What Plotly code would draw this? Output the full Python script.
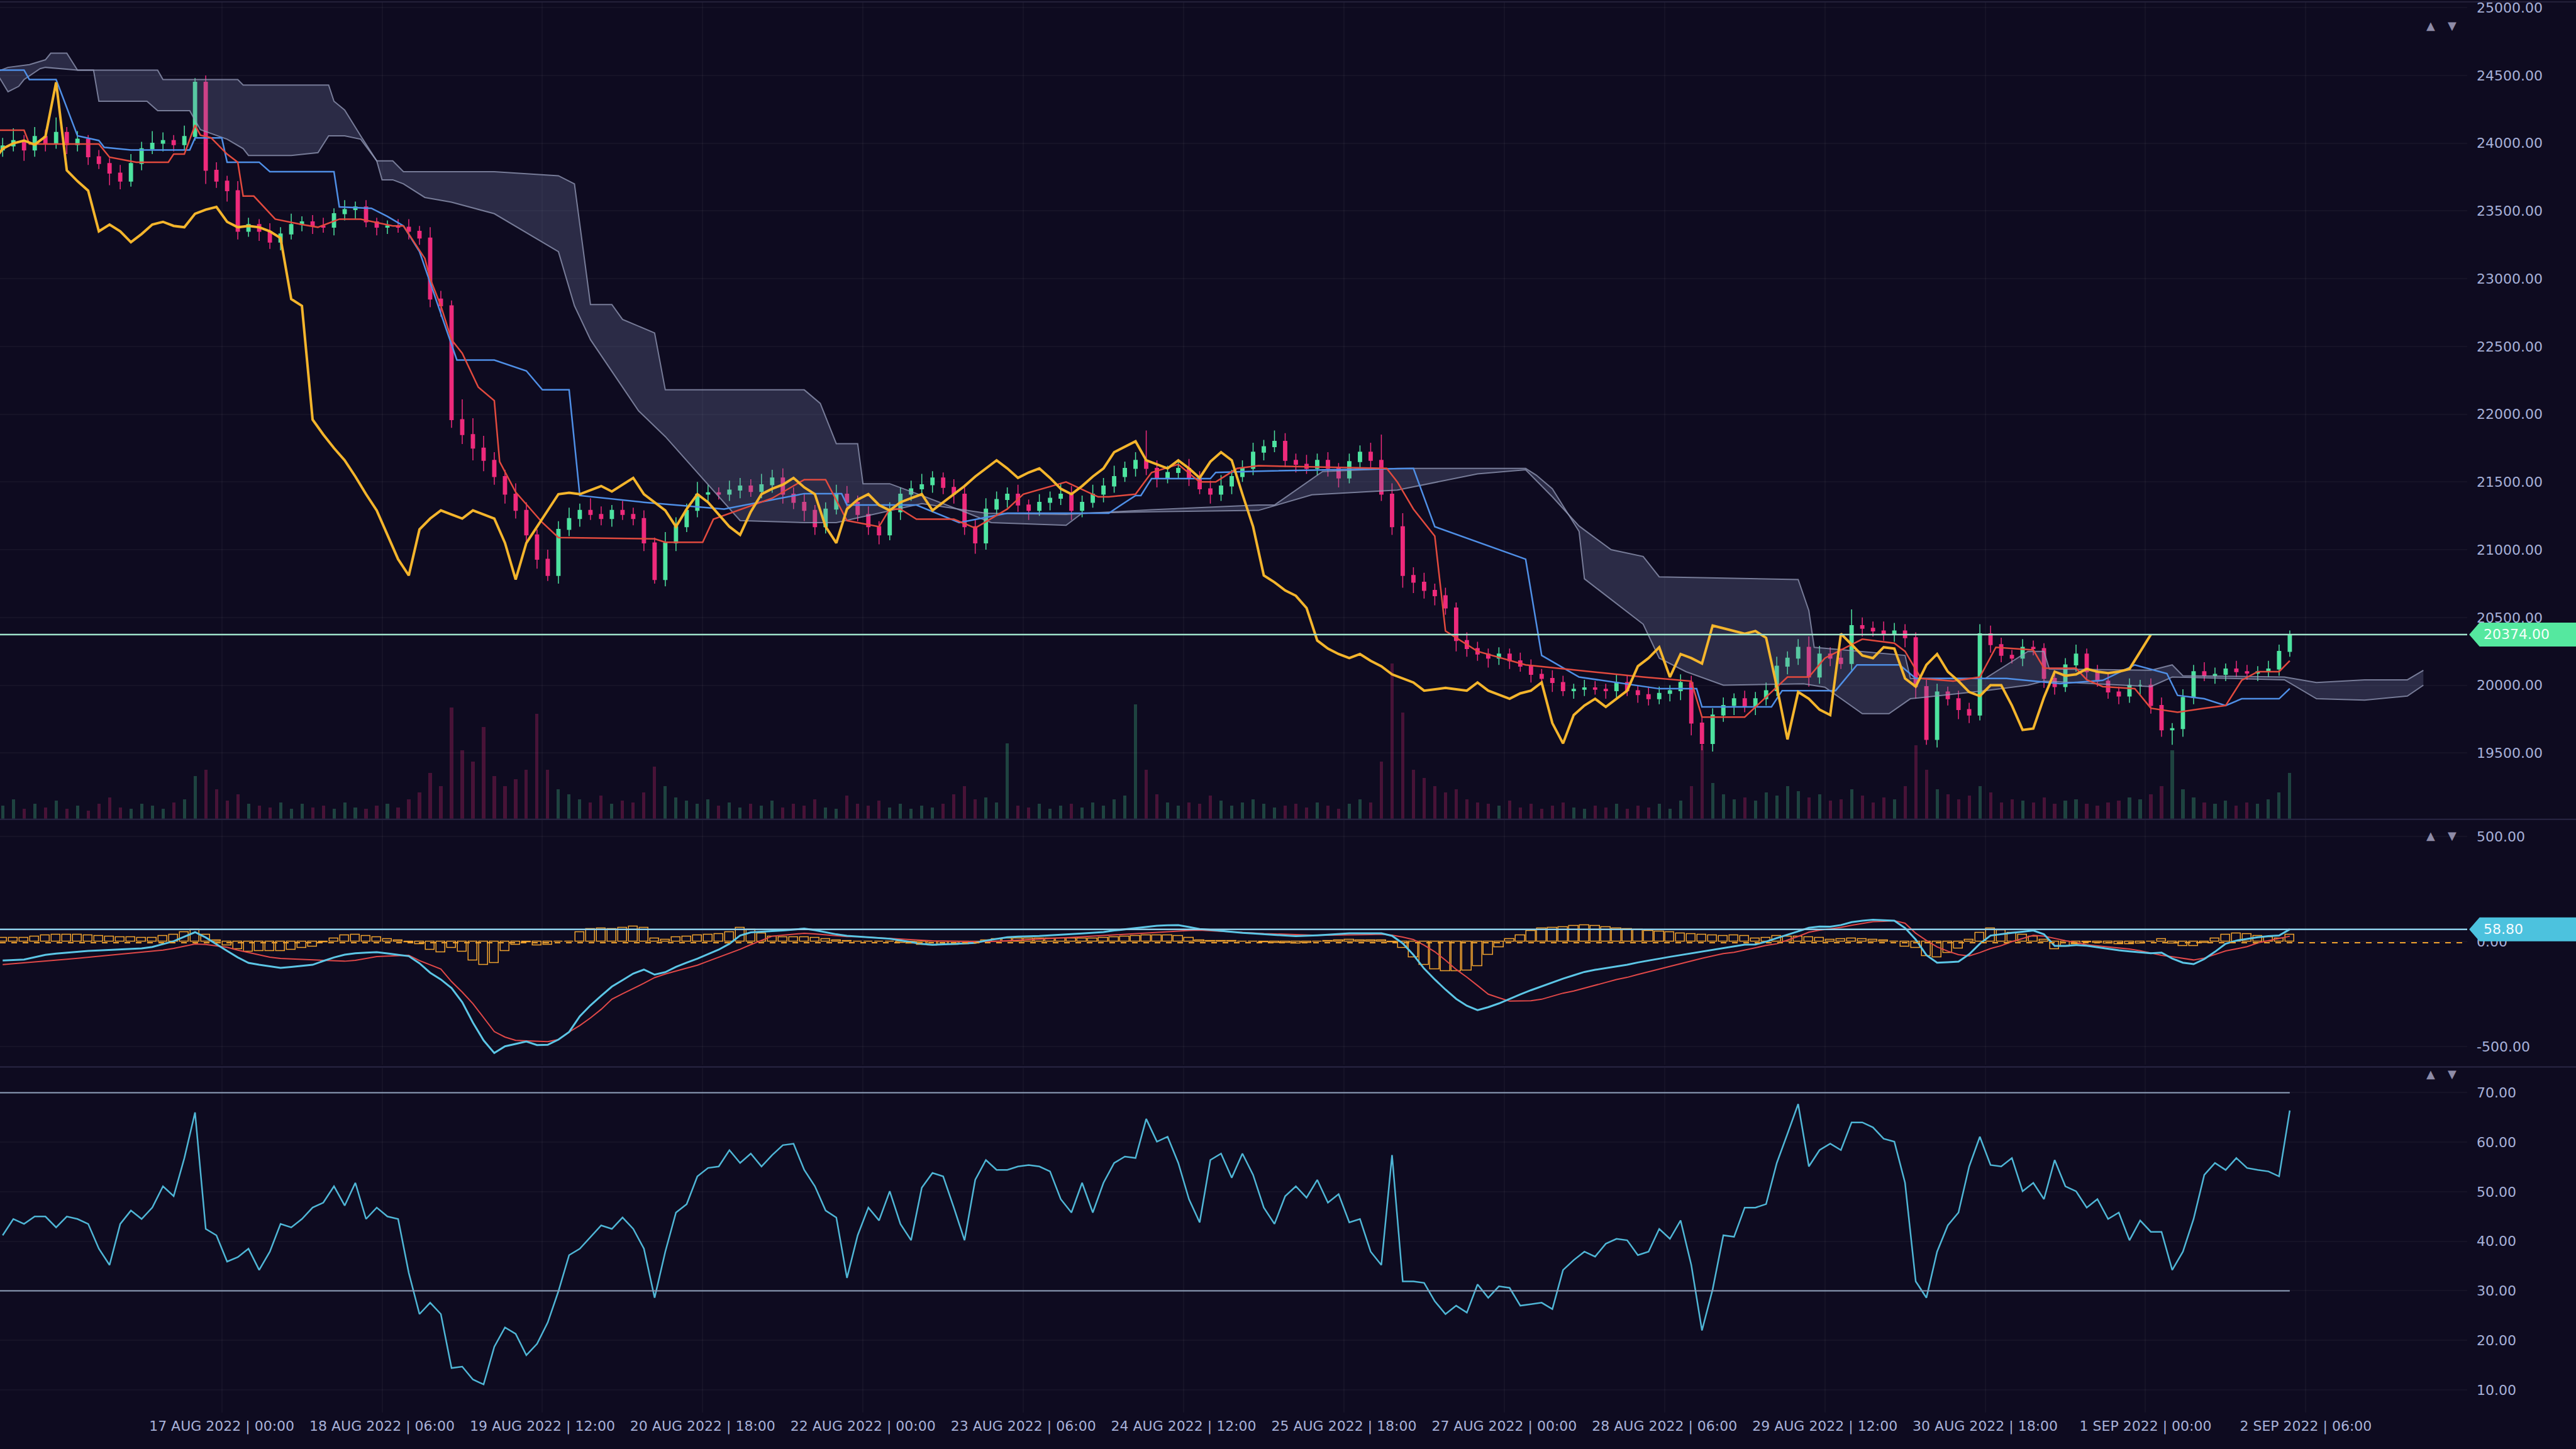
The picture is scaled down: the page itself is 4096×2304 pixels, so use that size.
import plotly.graph_objects as go
from datetime import datetime, timedelta

# ---------------- data (2-hour bars from 15 Aug 2022 07:00) ----------------
first_open = 23950
closes = [23980, 24020, 23950, 24050, 24000, 24080, 23990, 24030, 23900, 23850,
          23780, 23720, 23850, 23960, 24000, 24020, 23990, 24050, 24450, 23800,
          23720, 23650, 23350, 23400, 23350, 23270, 23330, 23400, 23420, 23390,
          23380, 23480, 23510, 23530, 23420, 23380, 23390, 23380, 23350, 23300,
          22850, 22800, 21960, 21850, 21750, 21660, 21540, 21410, 21290, 21110,
          20930, 20810, 21150, 21230, 21290, 21260, 21230, 21290, 21260, 21230,
          21050, 20780, 21050, 21170, 21290, 21410, 21420, 21410, 21440, 21470,
          21430, 21480, 21530, 21410, 21350, 21290, 21170, 21300, 21410, 21350,
          21260, 21170, 21110, 21280, 21410, 21450, 21480, 21530, 21460, 21410,
          21170, 21050, 21300, 21370, 21410, 21330, 21290, 21350, 21380, 21410,
          21290, 21350, 21410, 21470, 21540, 21600, 21660, 21600, 21530, 21570,
          21600, 21530, 21450, 21410, 21470, 21540, 21600, 21720, 21760, 21800,
          21660, 21630, 21600, 21660, 21600, 21530, 21650, 21720, 21660, 21410,
          21170, 20810, 20760, 20700, 20660, 20570, 20330, 20270, 20230, 20200,
          20230, 20180, 20140, 20080, 20050, 20020, 19960, 19970, 19980, 19970,
          19960, 20020, 19960, 19930, 19900, 19940, 19960, 20020, 19720, 19570,
          19780, 19850, 19900, 19840, 19900, 19960, 20140, 20200, 20280, 20060,
          20230, 20200, 20160, 20440, 20420, 20400, 20380, 20400, 20350, 19990,
          19600, 19950, 19900, 19820, 19780, 20380, 20300, 20220, 20200, 20280,
          20270, 20050, 19990, 20150, 20230, 20100, 20030, 19950, 19920, 20000,
          20000, 19850, 19670, 19680, 19910, 20100, 20070, 20080, 20120, 20100,
          20090, 20100, 20120, 20250, 20374]
wick_up = [60, 90, 40, 70, 50, 110, 40, 60, 30, 50,
           40, 60, 70, 50, 90, 60, 40, 80, 30, 50,
           60, 40, 70, 50, 40, 60, 50, 80, 40, 50,
           60, 40, 70, 40, 50, 30, 40, 50, 60, 40,
           80, 60, 40, 150, 120, 90, 60, 50, 80, 60,
           40, 70, 60, 80, 50, 90, 60, 40, 70, 50,
           60, 40, 80, 70, 50, 90, 60, 40, 70, 60,
           50, 80, 60, 70, 50, 60, 40, 50, 70, 60,
           50, 60, 40, 70, 50, 60, 80, 50, 40, 60,
           70, 50, 80, 60, 50, 70, 40, 60, 50, 80,
           60, 50, 70, 60, 80, 50, 60, 220, 60, 50,
           60, 70, 50, 60, 80, 50, 60, 70, 50, 80,
           60, 50, 70, 50, 60, 40, 60, 50, 70, 190,
           80, 100, 60, 70, 50, 60, 40, 60, 50, 40,
           50, 40, 60, 50, 40, 60, 50, 40, 60, 50,
           40, 60, 50, 40, 60, 50, 40, 60, 50, 40,
           50, 60, 40, 60, 50, 60, 70, 50, 60, 80,
           60, 50, 70, 120, 60, 50, 70, 60, 50, 40,
           50, 60, 40, 60, 50, 70, 60, 50, 40, 60,
           50, 40, 60, 50, 70, 40, 50, 60, 40, 50,
           40, 50, 60, 40, 60, 50, 70, 50, 40, 60,
           50, 40, 60, 50, 30]
wick_dn = [50, 40, 80, 50, 60, 40, 70, 50, 60, 40,
           90, 60, 40, 50, 40, 60, 50, 40, 30, 100,
           50, 80, 60, 40, 70, 50, 60, 40, 50, 60,
           40, 60, 50, 70, 40, 60, 50, 40, 60, 50,
           60, 80, 60, 70, 90, 80, 60, 70, 60, 80,
           70, 40, 60, 50, 60, 40, 50, 60, 40, 50,
           60, 30, 50, 60, 40, 50, 60, 40, 50, 60,
           40, 50, 60, 70, 50, 80, 60, 50, 40, 60,
           50, 60, 70, 40, 60, 50, 40, 60, 50, 70,
           60, 80, 50, 40, 60, 50, 70, 40, 60, 50,
           70, 50, 40, 60, 50, 40, 60, 50, 70, 40,
           50, 60, 40, 70, 50, 60, 40, 50, 60, 40,
           50, 60, 40, 50, 60, 70, 40, 50, 60, 50,
           60, 90, 80, 60, 70, 50, 80, 60, 50, 70,
           50, 60, 40, 60, 50, 70, 40, 60, 50, 40,
           60, 50, 40, 60, 50, 40, 60, 70, 90, 50,
           60, 50, 70, 40, 60, 50, 40, 60, 50, 70,
           50, 60, 40, 50, 60, 40, 50, 60, 70, 90,
           40, 60, 50, 70, 60, 40, 60, 50, 40, 60,
           50, 70, 60, 40, 50, 60, 40, 50, 60, 50,
           70, 60, 50, 110, 60, 50, 40, 60, 50, 40,
           50, 60, 40, 50, 40]
volume = [80, 120, 60, 90, 70, 110, 60, 80, 50, 90,
          130, 70, 60, 90, 80, 60, 100, 120, 260, 300,
          180, 110, 150, 90, 80, 70, 100, 60, 90, 70,
          80, 60, 100, 70, 60, 80, 90, 70, 120, 160,
          280, 200, 680, 420, 350, 560, 260, 200, 240, 300,
          640, 300, 180, 150, 120, 100, 140, 90, 110, 100,
          160, 320, 200, 130, 110, 90, 120, 80, 100, 70,
          90, 80, 110, 70, 90, 80, 120, 70, 60, 140,
          90, 80, 110, 70, 90, 60, 80, 70, 90, 150,
          200, 120, 130, 100, 460, 80, 70, 90, 60, 80,
          90, 70, 100, 80, 120, 140, 700, 300, 150, 100,
          80, 100, 90, 140, 110, 80, 100, 120, 90, 70,
          80, 90, 70, 100, 80, 60, 90, 120, 100, 350,
          950, 650, 300, 250, 200, 160, 180, 120, 100, 90,
          80, 110, 70, 90, 60, 80, 100, 70, 60, 80,
          70, 90, 60, 80, 70, 90, 60, 110, 200, 450,
          220, 150, 120, 130, 110, 160, 140, 200, 170, 130,
          150, 110, 120, 180, 140, 100, 130, 120, 200, 450,
          300, 180, 150, 120, 140, 200, 160, 100, 120, 110,
          100, 130, 90, 110, 120, 90, 80, 100, 110, 130,
          120, 150, 200, 420, 180, 130, 100, 90, 110, 80,
          100, 90, 120, 160, 280]

# Ichimoku lines: (hours after 15 Aug 2022 07:00, price)
tenkan_h = [-1, 4, 5, 10, 18, 20, 25, 31, 32, 34, 36, 37, 39, 42, 44, 45, 47, 51, 56, 59,
            63, 67, 73, 75, 79, 80, 82, 84, 86, 89, 92, 93, 96, 101, 104, 122, 124, 131, 133, 144,
            150, 154, 158, 164, 166, 168, 171, 178, 182, 188, 191, 199, 205, 207, 212, 215, 220, 224, 227, 231,
            235, 259, 261, 264, 268, 270, 276, 285, 307, 316, 318, 326, 334, 338, 341, 348, 354, 356, 359, 365,
            370, 373, 380, 382, 388, 390, 393, 399, 402, 407, 412, 416, 419, 422, 426, 428]
tenkan = [24096, 24096, 23994, 23994, 23994, 23897, 23860, 23860, 23920, 23920, 24134, 24060, 24040, 23920, 23860, 23610, 23610, 23440, 23400, 23380,
          23440, 23440, 23390, 23390, 23150, 23000, 22800, 22550, 22450, 22200, 22100, 21650, 21425, 21200, 21090, 21080, 21055, 21055, 21225, 21380,
          21517, 21517, 21215, 21170, 21300, 21300, 21225, 21225, 21160, 21300, 21410, 21500, 21390, 21390, 21410, 21570, 21630, 21500, 21500, 21600,
          21620, 21600, 21500, 21300, 21100, 20400, 20250, 20150, 20060, 20030, 19765, 19765, 20060, 20060, 20200, 20340, 20310, 20250, 20050, 20030,
          20060, 20280, 20260, 20125, 20125, 20040, 19990, 19975, 19830, 19800, 19830, 19850, 20036, 20100, 20100, 20180]
kijun_h = [-1, 4, 5, 10, 14, 18, 19, 24, 35, 36, 41, 42, 48, 50, 62, 63, 69, 72, 75, 78,
           85, 92, 98, 101, 106, 108, 120, 135, 150, 157, 158, 171, 179, 188, 207, 212, 213, 215, 226, 227,
           235, 264, 268, 285, 288, 295, 310, 317, 318, 331, 333, 343, 347, 355, 358, 375, 385, 393, 399, 405,
           407, 412, 416, 419, 426, 428]
kijun = [24540, 24540, 24470, 24470, 24055, 24020, 23970, 23950, 23950, 24040, 24040, 23860, 23860, 23790, 23790, 23530, 23520, 23460, 23390, 23200,
         22400, 22400, 22320, 22180, 22180, 21400, 21350, 21300, 21414, 21414, 21330, 21330, 21200, 21270, 21270, 21400, 21400, 21525, 21525, 21570,
         21580, 21600, 21170, 20930, 20220, 20060, 19974, 19974, 19840, 19840, 19960, 19960, 20150, 20150, 20050, 20050, 20012, 20036, 20150, 20086,
         19925, 19900, 19850, 19900, 19900, 19975]
senkou_a_h = [-1, 1, 3, 4, 7, 8, 14, 17, 18, 27, 29, 35, 37, 42, 45, 46, 54, 59, 61, 64,
              67, 70, 71, 73, 75, 79, 84, 92, 104, 107, 110, 113, 119, 124, 138, 150, 156, 172, 184, 199,
              215, 235, 238, 247, 261, 285, 287, 290, 295, 296, 307, 310, 315, 322, 337, 341, 348, 353, 357, 371,
              379, 382, 402, 406, 427, 433, 442, 450, 453]
senkou_a = [24510, 24380, 24420, 24470, 24550, 24560, 24540, 24540, 24310, 24310, 24240, 24240, 24100, 24030, 23960, 23910, 23910, 23930, 24055, 24055,
            24030, 23870, 23730, 23730, 23700, 23600, 23565, 23480, 23200, 22800, 22550, 22375, 22025, 21835, 21215, 21200, 21200, 21340, 21270, 21260,
            21295, 21330, 21330, 21577, 21600, 21600, 21550, 21450, 21135, 20785, 20450, 20200, 20100, 20000, 20010, 19985, 19790, 19790, 19900, 19960,
            20000, 20030, 19990, 20060, 20040, 19900, 19890, 19920, 20000]
senkou_b_h = [-1, 1, 5, 8, 9, 12, 14, 29, 30, 44, 45, 61, 62, 64, 67, 70, 73, 75, 92, 104,
              107, 110, 114, 116, 122, 124, 150, 153, 156, 160, 161, 166, 172, 180, 185, 199, 202, 215, 235, 245,
              261, 276, 285, 290, 295, 301, 307, 310, 336, 338, 339, 356, 357, 371, 379, 382, 383, 402, 406, 408,
              427, 433, 442, 450, 453]
senkou_b = [24530, 24560, 24580, 24616, 24665, 24665, 24540, 24540, 24470, 24470, 24430, 24430, 24310, 24245, 24055, 23870, 23870, 23790, 23790, 23760,
            23700, 22810, 22810, 22700, 22600, 22180, 22180, 22080, 21783, 21783, 21487, 21487, 21400, 21280, 21200, 21180, 21270, 21280, 21290, 21405,
            21440, 21560, 21590, 21390, 21175, 21000, 20950, 20800, 20780, 20550, 20280, 20220, 20050, 20050, 20250, 20250, 20120, 20110, 20150, 20070,
            20060, 20020, 20040, 20040, 20110]

macd = [-90, -87, -85, -74, -63, -57, -52, -47, -44, -42,
        -40, -38, -35, -32, -25, -12, 2, 24, 45, 20,
        -13, -44, -75, -101, -110, -118, -125, -120, -115, -110,
        -92, -75, -62, -55, -52, -50, -56, -62, -69, -103,
        -148, -180, -221, -288, -385, -470, -530, -498, -486, -475,
        -492, -491, -466, -430, -355, -303, -258, -214, -183, -152,
        -133, -157, -145, -120, -100, -81, -59, -38, -10, 29,
        44, 46, 50, 53, 58, 62, 55, 45, 35, 28,
        24, 21, 17, 14, 6, -2, -10, -15, -13, -12,
        -10, -6, 5, 14, 21, 24, 25, 27, 30, 32,
        36, 39, 42, 46, 53, 59, 66, 72, 76, 78,
        79, 70, 60, 56, 51, 47, 42, 39, 35, 32,
        29, 26, 27, 30, 33, 37, 40, 40, 40, 40,
        28, -8, -63, -128, -180, -228, -272, -305, -326, -312,
        -294, -272, -251, -231, -212, -193, -176, -160, -144, -134,
        -126, -118, -110, -99, -91, -81, -72, -64, -55, -47,
        -38, -30, -22, -14, -13, 0, 17, 32, 49, 66,
        72, 71, 79, 93, 100, 104, 103, 100, 65, 10,
        -64, -100, -98, -95, -60, -10, 29, 36, 42, 47,
        53, 35, -20, -20, -16, -19, -27, -35, -41, -46,
        -51, -55, -52, -80, -100, -107, -83, -48, -10, 5,
        13, 21, 26, 29, 58.8]
signal = [-109, -105, -102, -98, -94, -89, -84, -79, -74, -70,
          -64, -60, -55, -50, -44, -40, -32, -21, -11, -13,
          -20, -27, -40, -52, -64, -74, -80, -82, -84, -87,
          -89, -91, -93, -89, -79, -71, -69, -67, -65, -90,
          -110, -130, -190, -240, -295, -360, -428, -454, -470, -472,
          -474, -476, -466, -430, -399, -363, -322, -274, -248, -224,
          -198, -171, -154, -140, -125, -112, -93, -74, -54, -36,
          -14, 6, 26, 31, 36, 40, 37, 33, 29, 24,
          24, 21, 18, 15, 11, 8, 5, 4, 3, 2,
          1, 0, 0, 2, 5, 8, 10, 13, 15, 18,
          20, 23, 26, 29, 33, 36, 40, 43, 46, 48,
          51, 53, 55, 52, 49, 45, 42, 40, 38, 37,
          35, 34, 32, 30, 31, 31, 32, 33, 34, 35,
          31, 22, 10, -17, -48, -88, -132, -169, -209, -250,
          -267, -283, -282, -281, -274, -260, -245, -235, -222, -208,
          -194, -180, -170, -156, -143, -130, -117, -104, -91, -79,
          -68, -57, -51, -40, -29, -18, -10, 7, 25, 45,
          55, 61, 68, 78, 87, 95, 97, 100, 88, 40,
          6, -25, -45, -62, -68, -52, -33, -19, 0, 15,
          30, 26, 15, 5, -4, -15, -20, -25, -30, -35,
          -43, -55, -65, -72, -80, -87, -78, -62, -44, -34,
          -24, -6, 5, 15, 26]
rsi = [41.2, 44.5, 43.5, 45, 45, 42.8, 45, 44.5, 43.5, 38.5,
       35.2, 43.5, 46.2, 44.5, 46.8, 51.1, 49.1, 56.8, 66, 42.5,
       41.2, 35.9, 36.8, 38.5, 34.2, 37.9, 43.5, 42.8, 44.5, 46.8,
       47.8, 51.1, 47.2, 51.8, 44.5, 46.8, 45, 44.5, 33.6, 25.3,
       27.6, 25.3, 14.4, 14.7, 12.1, 11.1, 18.7, 22.6, 21.3, 17,
       19.3, 23.6, 29.9, 37.2, 38.5, 40.9, 43.2, 42.5, 44.8, 42.5,
       38.5, 28.6, 37.9, 45.8, 47.5, 53.1, 54.8, 55.1, 58.4, 55.8,
       57.7, 55.1, 57.4, 59.4, 59.7, 54.4, 51.1, 46.2, 44.8, 32.6,
       41.2, 46.8, 44.2, 50.1, 43.5, 40.2, 50.8, 53.8, 53.1, 46.8,
       40.2, 52.4, 56.4, 54.4, 54.4, 55.1, 55.4, 55.1, 54.1, 48.5,
       45.8, 51.8, 45.8, 51.8, 55.8, 57.1, 56.8, 64.7, 60.1, 61.1,
       55.8, 48.5, 43.8, 56.4, 57.7, 52.8, 57.7, 53.4, 46.8, 43.5,
       49.1, 51.1, 48.8, 52.4, 47.8, 49.5, 43.8, 44.5, 37.9, 35.2,
       57.4, 31.9, 31.9, 31.6, 27.9, 25.3, 27, 25.6, 31.3, 28.6,
       30.9, 30.6, 27, 27.3, 27.6, 26.3, 34.2, 36.2, 37.9, 36.9,
       39.5, 40.5, 40.2, 37.2, 37.9, 42.5, 40.5, 44.2, 35.2, 22,
       30.3, 41.2, 40.9, 46.8, 46.8, 47.5, 55.8, 61.7, 67.7, 55.1,
       58.4, 59.7, 58.4, 64, 64, 63, 60.7, 60.1, 51.8, 31.9,
       28.6, 37.9, 43.2, 45.8, 55.1, 61.1, 55.4, 55.1, 56.8, 50.1,
       51.8, 48.5, 56.4, 51.1, 50.1, 46.8, 48.5, 44.5, 45.8, 40.2,
       44.2, 41.9, 41.9, 34.2, 37.9, 44.5, 53.4, 55.8, 54.4, 56.8,
       54.8, 54.4, 54.1, 53.1, 66.4]

last_price = 20374.00
last_macd = 58.80
hist_last_level = -5
rsi_upper = 70
rsi_lower = 30

price_ticks = [19500, 20000, 20500, 21000, 21500, 22000, 22500, 23000, 23500, 24000, 24500, 25000]
macd_ticks = [-500, 0, 500]
rsi_ticks = [10, 20, 30, 40, 50, 60, 70]
tick_times = ["2022-08-17 00:00", "2022-08-18 06:00", "2022-08-19 12:00", "2022-08-20 18:00",
              "2022-08-22 00:00", "2022-08-23 06:00", "2022-08-24 12:00", "2022-08-25 18:00",
              "2022-08-27 00:00", "2022-08-28 06:00", "2022-08-29 12:00", "2022-08-30 18:00",
              "2022-09-01 00:00", "2022-09-02 06:00"]
tick_labels = ["17 AUG 2022 | 00:00", "18 AUG 2022 | 06:00", "19 AUG 2022 | 12:00", "20 AUG 2022 | 18:00",
               "22 AUG 2022 | 00:00", "23 AUG 2022 | 06:00", "24 AUG 2022 | 12:00", "25 AUG 2022 | 18:00",
               "27 AUG 2022 | 00:00", "28 AUG 2022 | 06:00", "29 AUG 2022 | 12:00", "30 AUG 2022 | 18:00",
               "1 SEP 2022 | 00:00", "2 SEP 2022 | 06:00"]

# ---------------- styling ----------------
BG = "#0e0b20"
GRID = "rgba(255,255,255,0.035)"
TICK = "#a7b1d9"
GREEN = "#4de3a0"
PINK = "#ee2a7b"
FONT = "DejaVu Sans"

start = datetime(2022, 8, 15, 7, 0)
bar_step = timedelta(hours=2)
bar_times = [start + bar_step * i for i in range(len(closes))]
opens = [first_open] + closes[:-1]
highs = [max(o, c) + w for o, c, w in zip(opens, closes, wick_up)]
lows = [min(o, c) - w for o, c, w in zip(opens, closes, wick_dn)]
hist = [m - s for m, s in zip(macd, signal)]


def htime(hs):
    return [start + timedelta(hours=h) for h in hs]


x_range = [start - timedelta(minutes=30), start + timedelta(hours=461.2)]

fig = go.Figure()

# volume (base axis of the main panel)
vol_colors = ["rgba(77,227,160,0.26)" if c >= o else "rgba(238,42,123,0.26)" for o, c in zip(opens, closes)]
fig.add_trace(go.Bar(x=bar_times, y=volume, marker=dict(color=vol_colors, line=dict(width=0)),
                     width=2 * 3600 * 1000 * 0.3, xaxis="x", yaxis="y", hoverinfo="skip"))

# Ichimoku cloud
fig.add_trace(go.Scatter(x=htime(senkou_b_h), y=senkou_b, mode="lines",
                         line=dict(color="rgba(150,156,185,0.75)", width=2), xaxis="x", yaxis="y4"))
fig.add_trace(go.Scatter(x=htime(senkou_a_h), y=senkou_a, mode="lines", fill="tonexty",
                         fillcolor="rgba(120,128,168,0.28)",
                         line=dict(color="rgba(150,156,185,0.75)", width=2), xaxis="x", yaxis="y4"))
# Kijun / Tenkan
fig.add_trace(go.Scatter(x=htime(kijun_h), y=kijun, mode="lines",
                         line=dict(color="#4f8fe6", width=2.5), xaxis="x", yaxis="y4"))
fig.add_trace(go.Scatter(x=htime(tenkan_h), y=tenkan, mode="lines",
                         line=dict(color="#e24a3e", width=2.5), xaxis="x", yaxis="y4"))
# candles
fig.add_trace(go.Candlestick(x=bar_times, open=opens, high=highs, low=lows, close=closes,
                             increasing=dict(line=dict(color=GREEN, width=1.5), fillcolor=GREEN),
                             decreasing=dict(line=dict(color=PINK, width=1.5), fillcolor=PINK),
                             whiskerwidth=0, xaxis="x", yaxis="y4", hoverinfo="skip"))
# Chikou (close shifted back 26 hours)
fig.add_trace(go.Scatter(x=[t - timedelta(hours=26) for t in bar_times], y=closes, mode="lines",
                         line=dict(color="#f4b52c", width=4), xaxis="x", yaxis="y4"))

# MACD panel
fig.add_trace(go.Bar(x=bar_times, y=hist, width=2 * 3600 * 1000 * 0.85,
                     marker=dict(color="rgba(0,0,0,0)", line=dict(color="#f0a22e", width=1.5)),
                     xaxis="x2", yaxis="y2", hoverinfo="skip"))
fig.add_trace(go.Scatter(x=bar_times, y=signal, mode="lines", line=dict(color="#e04848", width=2),
                         xaxis="x2", yaxis="y2"))
fig.add_trace(go.Scatter(x=bar_times, y=macd, mode="lines", line=dict(color="#5cc6e6", width=3),
                         xaxis="x2", yaxis="y2"))

# RSI panel
fig.add_trace(go.Scatter(x=bar_times, y=rsi, mode="lines", line=dict(color="#4fb6d6", width=2.5),
                         xaxis="x3", yaxis="y3"))

# ---------------- layout ----------------
W, H = 4096, 2304
ML, MR, MT, MB = 0, 173, 0, 58
plot_w = W - ML - MR
plot_h = H - MT - MB
main_dom = [0.4208, 1.0]
macd_dom = [0.2464, 0.4197]
rsi_dom = [0.0, 0.2441]
price_range = [19015, 25048]
macd_range = [-586, 578]
rsi_range = [5.43, 74.97]

tickfont = dict(family=FONT, size=22, color=TICK)
common_x = dict(range=x_range, showgrid=True, gridcolor=GRID, gridwidth=2, zeroline=False,
                showline=False, tickvals=tick_times, ticks="", fixedrange=True)
common_y = dict(side="right", showgrid=True, gridcolor=GRID, gridwidth=2, zeroline=False, showline=False,
                ticks="", tickfont=tickfont, ticklabelstandoff=14, ticklabeloverflow="allow", fixedrange=True)

fig.update_layout(
    width=W, height=H, paper_bgcolor=BG, plot_bgcolor=BG,
    margin=dict(l=ML, r=MR, t=MT, b=MB), showlegend=False, boxgap=0.55, bargap=0,
    font=dict(family=FONT, color=TICK, size=22),
    xaxis=dict(domain=[0, 1], anchor="y", showticklabels=False, rangeslider=dict(visible=False), **common_x),
    yaxis=dict(domain=main_dom, range=[0, 5000], visible=False, fixedrange=True),
    yaxis4=dict(overlaying="y", anchor="x", range=price_range, tickvals=price_ticks,
                ticktext=["%.2f" % v for v in price_ticks], **common_y),
    xaxis2=dict(domain=[0, 1], anchor="y2", showticklabels=False, **common_x),
    yaxis2=dict(domain=macd_dom, anchor="x2", range=macd_range, tickvals=macd_ticks,
                ticktext=["%.2f" % v for v in macd_ticks], **common_y),
    xaxis3=dict(domain=[0, 1], anchor="y3", showticklabels=True, ticktext=tick_labels,
                tickfont=tickfont, ticklabelstandoff=6, **common_x),
    yaxis3=dict(domain=rsi_dom, anchor="x3", range=rsi_range, tickvals=rsi_ticks,
                ticktext=["%.2f" % v for v in rsi_ticks], **common_y),
)


def paper_y(val, rng, dom):
    return dom[0] + (val - rng[0]) / (rng[1] - rng[0]) * (dom[1] - dom[0])


shapes = []
# panel separators
for yy in [main_dom[0] - 0.0005, macd_dom[0] - 0.0015]:
    shapes.append(dict(type="line", xref="paper", yref="paper", x0=0, x1=W / plot_w, y0=yy, y1=yy,
                       line=dict(color="#2a2744", width=2)))
# top border
shapes.append(dict(type="line", xref="paper", yref="paper", x0=0, x1=W / plot_w, y0=0.9995, y1=0.9995,
                   line=dict(color="#24213a", width=2)))
# last price line
shapes.append(dict(type="line", xref="paper", yref="y4", x0=0, x1=1, y0=last_price, y1=last_price,
                   line=dict(color="#9fe2cb", width=2.5)))
# macd level lines
shapes.append(dict(type="line", xref="paper", yref="y2", x0=0, x1=1, y0=last_macd, y1=last_macd,
                   line=dict(color="#8fd0ea", width=2.5)))
shapes.append(dict(type="line", xref="paper", yref="y2", x0=0, x1=1, y0=hist_last_level, y1=hist_last_level,
                   line=dict(color="#f0a22e", width=2, dash="dash")))
# RSI bands
for lvl in [rsi_upper, rsi_lower]:
    shapes.append(dict(type="line", xref="x3", yref="y3", x0=x_range[0], x1=bar_times[-1], y0=lvl, y1=lvl,
                       line=dict(color="#8fa2bc", width=2)))


def tag_path(val, rng, dom, half_h_px):
    yc = paper_y(val, rng, dom)
    dy = half_h_px / plot_h
    xp = 1.0008
    xb = 1.0050
    xr = W / plot_w + 0.01
    return ("M %f,%f L %f,%f L %f,%f L %f,%f L %f,%f Z" %
            (xp, yc, xb, yc + dy, xr, yc + dy, xr, yc - dy, xb, yc - dy))


shapes.append(dict(type="path", xref="paper", yref="paper", path=tag_path(last_price, price_range, main_dom, 19),
                   fillcolor="#55e89f", line=dict(width=0), layer="above"))
shapes.append(dict(type="path", xref="paper", yref="paper", path=tag_path(last_macd, macd_range, macd_dom, 19),
                   fillcolor="#4cc2de", line=dict(width=0), layer="above"))
fig.update_layout(shapes=shapes)

ann = []
ann.append(dict(xref="paper", yref="paper", x=1.0062, y=paper_y(last_price, price_range, main_dom),
                text="%.2f" % last_price, showarrow=False, xanchor="left", yanchor="middle",
                font=dict(family=FONT, size=22, color="#f4fff9")))
ann.append(dict(xref="paper", yref="paper", x=1.0062, y=paper_y(last_macd, macd_range, macd_dom),
                text="%.2f" % last_macd, showarrow=False, xanchor="left", yanchor="middle",
                font=dict(family=FONT, size=22, color="#f4fbff")))
for yy in [1 - 26 / plot_h, 1 - 1328 / plot_h, 1 - 1720 / plot_h]:
    ann.append(dict(xref="paper", yref="paper", x=3874 / plot_w, y=yy, text="\u25b2", showarrow=False,
                    font=dict(family=FONT, size=18, color="#8e8ca8")))
    ann.append(dict(xref="paper", yref="paper", x=3908 / plot_w, y=yy, text="\u25bc", showarrow=False,
                    font=dict(family=FONT, size=18, color="#8e8ca8")))
fig.update_layout(annotations=ann)

page_fix = ("document.documentElement.style.background='%s';"
            "document.body.style.margin='0';document.body.style.padding='0';"
            "document.body.style.background='%s';document.body.style.overflow='hidden';" % (BG, BG))
fig.write_html("out.html", post_script=page_fix, config={"displayModeBar": False})
